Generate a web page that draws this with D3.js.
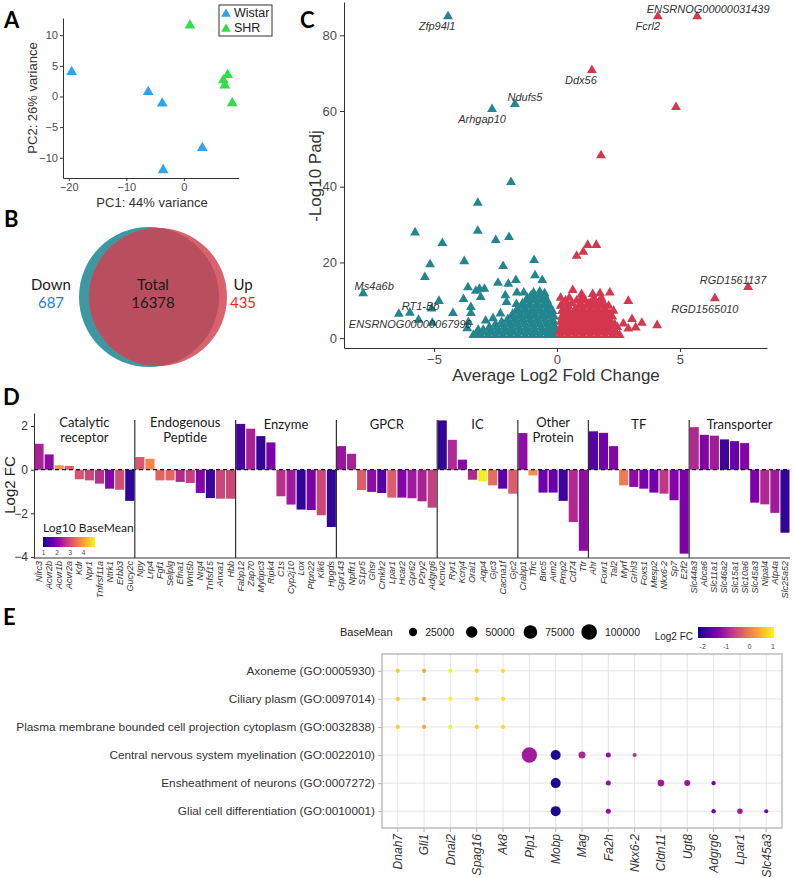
<!DOCTYPE html>
<html>
<head>
<meta charset="utf-8">
<title>Figure</title>
<style>
  body { margin: 0; background: #fff; }
  svg text { font-family: "Liberation Sans", Arial, sans-serif; }
  .cal { font-family: Lato, "Open Sans", sans-serif; }
  .letter { font-family: Lato, "Open Sans", sans-serif; font-weight: 700; font-size: 22px; fill: #000; }
</style>
</head>
<body>
<svg id="fig" width="794" height="878"></svg>
<script src="https://d3js.org/d3.v7.min.js"></script>
<script>
// ---- A: PCA ----
const pcaWistar = [[-19.5, 4.0], [-6.2, 0.75], [-3.77, -1.15], [3.2, -8.4], [-3.6, -12.0]];
const pcaSHR = [[1.04, 11.6], [7.6, 3.5], [6.85, 2.65], [7.1, 1.8], [8.4, -1.1]];
const pcaXTicks = [-20, -10, 0];
const pcaYTicks = [-10, -5, 0, 5, 10];

// ---- B: Venn ----
const vennNames = ["Down", "Total", "Up"];
const vennCounts = [687, 16378, 435];

// ---- C: volcano ----
const volcDown = [
  [-4.43, 85], [-2.64, 60.5], [-1.71, 61.8], [-1.87, 41.2], [-3.22, 35.7], [-3.22, 28.3],
  [-5.77, 27.9], [-1.95, 26.7], [-2.49, 25.9], [-4.66, 25.1], [-5.16, 19.5], [-3.77, 20.3],
  [-2.19, 19], [-0.93, 20.6], [-5.37, 16.1], [-0.89, 16.6], [-1.67, 15.3], [-0.6, 15.3],
  [-7.88, 11.8], [-3.62, 13.4], [-2.4, 14.6], [-1.98, 14.3], [-3.15, 13], [-2.95, 13],
  [-3.3, 12.5], [-1.63, 12], [-1.35, 12], [-2.1, 11.3], [-3.1, 10.8], [-3.8, 10.3],
  [-4.8, 9.8], [-2.05, 9.5], [-3.5, 8.2], [-1.65, 9], [-5.1, 7.8], [-3.5, 6.6],
  [-6.43, 6.4], [-5.98, 6.7], [-4.23, 6.6], [-5.63, 4.8], [-5.07, 4.0], [-3.65, 2.6],
  [-3.2, 2.2], [-2.9, 4.6], [-2.6, 5.2], [-2.3, 6.5], [-3.25, 1.0], [-3.6, 4.2],
  [-3.4, 0.8], [-3.1, 0.8], [-2.8, 0.8], [-2.5, 0.8], [-2.2, 0.8], [-1.9, 0.8], [-1.6, 0.8],
  [-1.3, 0.8], [-1.0, 0.8], [-0.7, 0.8], [-0.4, 0.8], [-0.15, 0.8],
  [-3.25, 1.5], [-2.95, 1.5], [-2.65, 1.5], [-2.35, 1.5], [-2.05, 1.5], [-1.75, 1.5],
  [-1.45, 1.5], [-1.15, 1.5], [-0.85, 1.5], [-0.55, 1.5], [-0.28, 1.5], [-0.08, 1.5],
  [-3.0, 2.2], [-2.7, 2.2], [-2.4, 2.2], [-2.1, 2.2], [-1.8, 2.2], [-1.5, 2.2], [-1.2, 2.2],
  [-0.9, 2.2], [-0.6, 2.2], [-0.3, 2.2], [-0.1, 2.2],
  [-2.75, 2.9], [-2.45, 2.9], [-2.15, 2.9], [-1.85, 2.9], [-1.55, 2.9], [-1.25, 2.9],
  [-0.95, 2.9], [-0.65, 2.9], [-0.35, 2.9], [-0.1, 2.9],
  [-2.5, 3.6], [-2.2, 3.6], [-1.9, 3.6], [-1.6, 3.6], [-1.3, 3.6], [-1.0, 3.6], [-0.7, 3.6],
  [-0.4, 3.6], [-0.15, 3.6],
  [-2.25, 4.3], [-1.95, 4.3], [-1.65, 4.3], [-1.35, 4.3], [-1.05, 4.3], [-0.75, 4.3],
  [-0.45, 4.3], [-0.15, 4.3],
  [-2.0, 5.0], [-1.7, 5.0], [-1.4, 5.0], [-1.1, 5.0], [-0.8, 5.0], [-0.5, 5.0], [-0.2, 5.0],
  [-1.85, 5.7], [-1.55, 5.7], [-1.25, 5.7], [-0.95, 5.7], [-0.65, 5.7], [-0.35, 5.7], [-0.12, 5.7],
  [-1.8, 6.4], [-1.5, 6.4], [-1.2, 6.4], [-0.9, 6.4], [-0.6, 6.4], [-0.3, 6.4],
  [-1.65, 7.1], [-1.35, 7.1], [-1.05, 7.1], [-0.75, 7.1], [-0.45, 7.1], [-0.18, 7.1],
  [-1.6, 7.8], [-1.3, 7.8], [-1.0, 7.8], [-0.7, 7.8], [-0.4, 7.8],
  [-1.45, 8.5], [-1.15, 8.5], [-0.85, 8.5], [-0.55, 8.5], [-0.3, 8.5],
  [-1.4, 9.2], [-1.1, 9.2], [-0.8, 9.2], [-0.5, 9.2],
  [-1.25, 9.9], [-0.95, 9.9], [-0.65, 9.9], [-0.4, 9.9],
  [-1.2, 10.6], [-0.9, 10.6], [-0.6, 10.6],
  [-1.05, 11.3], [-0.75, 11.3], [-0.5, 11.3],
  [-0.95, 12], [-0.7, 12.3], [-0.5, 11.8]
];
const volcUp = [
  [0.64, 12.7], [1.0, 11.6], [1.45, 11.6], [1.75, 11.8], [2.15, 12], [2.9, 9.8], [2.3, 7.2],
  [3.05, 5], [3.45, 4], [2.7, 3.8], [3.2, 2.8], [2.9, 2.5], [4.07, 3.4], [0.8, 21.7],
  [1.07, 22.8], [1.25, 24.6], [1.6, 24.6], [1.79, 48.3], [1.42, 70.8], [4.84, 61],
  [4.1, 85], [5.7, 85], [6.42, 10.5], [7.77, 13.5],
  [0.15, 0.8], [0.45, 0.8], [0.75, 0.8], [1.05, 0.8], [1.35, 0.8], [1.65, 0.8], [1.95, 0.8],
  [2.25, 0.8], [2.55, 0.8],
  [0.1, 1.5], [0.3, 1.5], [0.6, 1.5], [0.9, 1.5], [1.2, 1.5], [1.5, 1.5], [1.8, 1.5], [2.1, 1.5],
  [2.4, 1.5],
  [0.2, 2.2], [0.5, 2.2], [0.8, 2.2], [1.1, 2.2], [1.4, 2.2], [1.7, 2.2], [2.0, 2.2], [2.3, 2.2],
  [0.15, 2.9], [0.35, 2.9], [0.65, 2.9], [0.95, 2.9], [1.25, 2.9], [1.55, 2.9], [1.85, 2.9],
  [2.15, 2.9], [2.45, 2.9],
  [0.25, 3.6], [0.55, 3.6], [0.85, 3.6], [1.15, 3.6], [1.45, 3.6], [1.75, 3.6], [2.05, 3.6],
  [2.35, 3.6],
  [0.15, 4.3], [0.4, 4.3], [0.7, 4.3], [1.0, 4.3], [1.3, 4.3], [1.6, 4.3], [1.9, 4.3], [2.2, 4.3],
  [0.3, 5.0], [0.6, 5.0], [0.9, 5.0], [1.2, 5.0], [1.5, 5.0], [1.8, 5.0], [2.1, 5.0],
  [0.2, 5.7], [0.45, 5.7], [0.75, 5.7], [1.05, 5.7], [1.35, 5.7], [1.65, 5.7], [1.95, 5.7],
  [2.25, 5.7],
  [0.35, 6.4], [0.65, 6.4], [0.95, 6.4], [1.25, 6.4], [1.55, 6.4], [1.85, 6.4], [2.15, 6.4],
  [0.2, 7.1], [0.5, 7.1], [0.8, 7.1], [1.1, 7.1], [1.4, 7.1], [1.7, 7.1], [2.0, 7.1],
  [0.4, 7.8], [0.75, 7.8], [1.05, 7.8], [1.35, 7.8], [1.65, 7.8], [1.95, 7.8],
  [0.15, 8.5], [0.45, 8.5], [0.9, 8.5], [1.2, 8.5], [1.5, 8.5], [1.8, 8.5], [2.1, 8.5],
  [0.25, 9.2], [0.6, 9.2], [0.95, 9.2], [1.3, 9.2], [1.6, 9.2], [1.9, 9.2],
  [0.35, 9.9], [0.8, 9.9], [1.15, 9.9], [1.45, 9.9], [1.75, 9.9],
  [0.15, 10.6], [0.5, 10.6], [1.0, 10.6], [1.5, 10.6], [1.8, 10.6]
];
const volcLabels = [
  ["Zfp94l1", -4.43, 85], ["Fcrl2", 4.1, 85], ["ENSRNOG00000031439", 5.7, 85],
  ["Ddx56", 1.42, 70.8], ["Ndufs5", -1.71, 61.8], ["Arhgap10", -2.64, 60.5],
  ["Ms4a6b", -7.88, 11.8], ["RT1-Bb", -5.1, 7.8], ["ENSRNOG00000067996", -5.07, 4.0],
  ["RGD1561137", 7.77, 13.5], ["RGD1565010", 6.42, 10.5]
];
const volcXTicks = [-5, 0, 5];
const volcYTicks = [0, 20, 40, 60, 80];

// ---- D: bars by target class ----
const dClasses = ["Catalytic receptor", "Endogenous Peptide", "Enzyme", "GPCR", "IC", "Other Protein", "TF", "Transporter"];
const dClassSizes = [10, 10, 10, 10, 8, 7, 10, 10];
const dGenes = [
  "Nlrc3", "Acvr2b", "Acvr1b", "Acvr2a", "Kdr", "Npr1", "Tnfrsf11a", "Ntrk1", "Erbb3", "Gucy2c",
  "Npy", "Lrp4", "Fgf1", "Selplg", "Efna1", "Wnt5b", "Nrg4", "Tnfsf15", "Anxa1", "Hbb",
  "Fabp12", "Zap70", "Mybpc3", "Ripk4", "C1s", "Cyp2j10", "Lox", "Ptpn22", "Klk6", "Hpgds",
  "Gpr143", "Npffr1", "S1pr5", "Ghsr", "Cmklr2", "Lpar1", "Hcar2", "Gpr62", "P2ry2", "Adgrg6",
  "Kcnv2", "Ryr1", "Kcnj4", "Orai1", "Aqp4", "Gjc3", "Cacna1f", "Gjc2",
  "Crabp1", "Tfrc", "Birc5", "Aim2", "Pmp2", "Cd74", "Ttr",
  "Ahr", "Foxr1", "Tal2", "Myrf", "Grhl3", "Foxs1", "Mesp2", "Nkx6-2", "Sp7", "E2f2",
  "Slc44a3", "Abca6", "Slc11a1", "Slc46a2", "Slc15a1", "Slc10a6", "Slc45a3", "Nipal4", "Atp4a", "Slc25a52"
];
const dLog2FC = [
  1.19, 0.70, 0.20, 0.17, -0.44, -0.49, -0.64, -0.87, -0.92, -1.43,
  0.58, 0.50, -0.49, -0.49, -0.56, -0.61, -1.07, -1.30, -1.33, -1.33,
  2.10, 1.88, 1.54, 1.25, -1.22, -1.60, -1.83, -1.85, -2.09, -2.63,
  1.08, 0.73, -0.93, -1.02, -1.07, -1.28, -1.28, -1.31, -1.45, -1.74,
  2.26, 1.37, 0.46, -0.46, -0.53, -0.72, -0.87, -1.10,
  1.68, -0.26, -1.05, -1.05, -1.43, -2.40, -3.72,
  1.76, 1.69, 1.08, -0.72, -0.79, -0.87, -1.05, -1.10, -1.40, -3.85,
  1.95, 1.60, 1.56, 1.39, 1.31, 1.22, -1.51, -1.59, -1.98, -2.89
];
const dLog10BaseMean = [
  2.4, 2.1, 3.8, 3.2, 3.1, 2.9, 2.6, 2.0, 3.0, 1.2,
  3.1, 3.7, 3.3, 3.3, 2.5, 2.8, 2.0, 1.3, 2.9, 2.9,
  1.4, 2.4, 1.2, 1.9, 2.6, 2.3, 1.2, 1.9, 2.9, 1.2,
  2.2, 2.4, 3.2, 2.1, 1.5, 3.2, 2.0, 2.3, 2.4, 2.8,
  1.2, 2.5, 2.0, 2.5, 4.75, 3.4, 1.6, 3.2,
  2.1, 3.8, 1.8, 1.7, 1.3, 2.5, 2.1,
  1.5, 1.8, 2.0, 3.6, 2.1, 1.9, 1.8, 2.7, 2.0, 1.9,
  2.5, 2.0, 2.3, 1.3, 1.7, 2.0, 1.9, 2.5, 2.3, 1.2
];
const dYTicks = [-4, -2, 0, 2];
const dLegendTicks = [1, 2, 3, 4];

// ---- E: GO dot plot ----
const eTerms = [
  "Axoneme (GO:0005930)", "Ciliary plasm (GO:0097014)",
  "Plasma membrane bounded cell projection cytoplasm (GO:0032838)",
  "Central nervous system myelination (GO:0022010)", "Ensheathment of neurons (GO:0007272)",
  "Glial cell differentiation (GO:0010001)"
];
const eGenes = ["Dnah7", "Gli1", "Dnai2", "Spag16", "Ak8", "Plp1", "Mobp", "Mag", "Fa2h", "Nkx6-2", "Cldn11", "Ugt8", "Adgrg6", "Lpar1", "Slc45a3"];
// gene, term index, BaseMean, Log2 FC
const eDots = [
  ["Dnah7", 0, 5000, 0.72], ["Dnah7", 1, 5000, 0.72], ["Dnah7", 2, 5000, 0.72],
  ["Gli1", 0, 5000, 0.42], ["Gli1", 1, 5000, 0.42], ["Gli1", 2, 5000, 0.42],
  ["Dnai2", 0, 5000, 1.02], ["Dnai2", 1, 5000, 1.02], ["Dnai2", 2, 5000, 1.02],
  ["Spag16", 0, 5000, 0.74], ["Spag16", 1, 5000, 0.74], ["Spag16", 2, 5000, 0.74],
  ["Ak8", 0, 5000, 0.85], ["Ak8", 1, 5000, 0.85], ["Ak8", 2, 5000, 0.85],
  ["Plp1", 3, 95000, -1.05], ["Mobp", 3, 38000, -2.1], ["Mobp", 4, 38000, -2.1], ["Mobp", 5, 38000, -2.1],
  ["Mag", 3, 17000, -0.95], ["Fa2h", 3, 7700, -1.2], ["Fa2h", 4, 7700, -1.2], ["Fa2h", 5, 7700, -1.2],
  ["Nkx6-2", 3, 4400, -0.85], ["Cldn11", 4, 15000, -1.1], ["Ugt8", 4, 12000, -1.15],
  ["Adgrg6", 4, 5500, -1.5], ["Adgrg6", 5, 5500, -1.5], ["Lpar1", 5, 9700, -1.05], ["Slc45a3", 5, 4400, -1.45]
];
const eSizeTicks = [25000, 50000, 75000, 100000];
const eColorTicks = [-2, -1, 0, 1];

const svg = d3.select("#fig");
const defs = svg.append("defs");

function styleAxis(g, fs, textColor, lineColor) {
  g.selectAll("path, line").attr("stroke", lineColor || "#333").attr("stroke-width", 1);
  g.selectAll("text").attr("font-size", fs).attr("fill", textColor || "#4d4d4d");
}

function gradient(id, scale, n) {
  const grad = defs.append("linearGradient").attr("id", id);
  const [d0, d1] = scale.domain();
  for (let i = 0; i <= n; i++) {
    grad.append("stop").attr("offset", i / n).attr("stop-color", scale(d0 + (d1 - d0) * i / n));
  }
}

// ============ A ============
const ax = d3.scaleLinear().domain([-21, 9.5]).range([63, 238.6]);
const ay = d3.scaleLinear().domain([-13.3, 12.8]).range([178, 18]);
const gA = svg.append("g");
gA.append("g").attr("transform", "translate(0,178)")
  .call(d3.axisBottom(ax).tickValues(pcaXTicks).tickSize(3).tickPadding(2).tickSizeOuter(0))
  .call(g => styleAxis(g, 11));
gA.append("g").attr("transform", "translate(63,0)")
  .call(d3.axisLeft(ay).tickValues(pcaYTicks).tickSize(3).tickPadding(2).tickSizeOuter(0))
  .call(g => styleAxis(g, 11));
const triA = d3.symbol().type(d3.symbolTriangle).size(50);
gA.selectAll(".w").data(pcaWistar).join("path")
  .attr("d", triA).attr("fill", "#2ea3ef")
  .attr("transform", d => `translate(${ax(d[0])},${ay(d[1])})`);
gA.selectAll(".s").data(pcaSHR).join("path")
  .attr("d", triA).attr("fill", "#30de4a")
  .attr("transform", d => `translate(${ax(d[0])},${ay(d[1])})`);
gA.append("text").attr("x", 152).attr("y", 207).attr("text-anchor", "middle")
  .attr("font-size", 13).attr("fill", "#333").text("PC1: 44% variance");
gA.append("text").attr("transform", "translate(37,98) rotate(-90)").attr("text-anchor", "middle")
  .attr("font-size", 13).attr("fill", "#333").text("PC2: 26% variance");
const legA = gA.append("g");
legA.append("rect").attr("x", 219).attr("y", 5).attr("width", 53).attr("height", 31)
  .attr("fill", "#fff").attr("stroke", "#333").attr("stroke-width", 1);
const pcaColors = ["#2ea3ef", "#30de4a"];
["Wistar", "SHR"].forEach((name, i) => {
  legA.append("path").attr("d", d3.symbol().type(d3.symbolTriangle).size(40))
    .attr("fill", pcaColors[i]).attr("transform", `translate(226,${14 + i * 15})`);
  legA.append("text").attr("x", 234).attr("y", 17 + i * 15).attr("font-size", 12.5)
    .attr("fill", "#222").text(name);
});

// ============ B ============
const gB = svg.append("g");
defs.append("clipPath").attr("id", "tealClip")
  .append("circle").attr("cx", 149).attr("cy", 297).attr("r", 70);
gB.append("circle").attr("cx", 149).attr("cy", 297).attr("r", 70).attr("fill", "#3c99a1");
gB.append("circle").attr("cx", 158).attr("cy", 297).attr("r", 69).attr("fill", "#d9626f");
gB.append("circle").attr("cx", 158).attr("cy", 297).attr("r", 69).attr("fill", "#b94e5e")
  .attr("clip-path", "url(#tealClip)");
const vennX = [51, 153, 243];
const vennCol = ["#1e7fd6", "#1a1a1a", "#ff1f1f"];
vennNames.forEach((n, i) => {
  gB.append("text").attr("class", "cal").attr("x", vennX[i]).attr("y", 290)
    .attr("text-anchor", "middle").attr("font-size", 15).attr("fill", "#1a1a1a").text(n);
  gB.append("text").attr("class", "cal").attr("x", vennX[i]).attr("y", 308)
    .attr("text-anchor", "middle").attr("font-size", 15).attr("fill", vennCol[i]).text(vennCounts[i]);
});

// ============ C ============
const cx = d3.scaleLinear().domain([-8.66, 8.54]).range([344, 767]);
const cy = d3.scaleLinear().domain([-2.6, 88.8]).range([348, 2]);
const gC = svg.append("g");
gC.append("g").attr("transform", "translate(0,348)")
  .call(d3.axisBottom(cx).tickValues(volcXTicks).tickSize(4).tickPadding(3).tickSizeOuter(0))
  .call(g => styleAxis(g, 13));
gC.append("g").attr("transform", "translate(344,0)")
  .call(d3.axisLeft(cy).tickValues(volcYTicks).tickSize(4).tickPadding(3).tickSizeOuter(0))
  .call(g => styleAxis(g, 13));
const triC = d3.symbol().type(d3.symbolTriangle).size(42);
gC.append("g").selectAll("path").data(volcDown).join("path")
  .attr("d", triC).attr("fill", "#23868e")
  .attr("transform", d => `translate(${cx(d[0])},${cy(d[1])})`);
gC.append("g").selectAll("path").data(volcUp).join("path")
  .attr("d", triC).attr("fill", "#d5374f")
  .attr("transform", d => `translate(${cx(d[0])},${cy(d[1])})`);
const labelOffsets = {
  "Zfp94l1": [-11, 10], "Fcrl2": [-10, 10], "ENSRNOG00000031439": [11, -7], "Ddx56": [-11, 10],
  "Ndufs5": [10, -7], "Arhgap10": [-10, 10], "Ms4a6b": [11, -7], "RT1-Bb": [-11, -2.5],
  "ENSRNOG00000067996": [-22, 1], "RGD1561137": [-15, -7], "RGD1565010": [-10, 11]
};
gC.append("g").selectAll("text").data(volcLabels).join("text")
  .attr("x", d => cx(d[1]) + labelOffsets[d[0]][0])
  .attr("y", d => cy(d[2]) + labelOffsets[d[0]][1] + 4)
  .attr("text-anchor", "middle").attr("font-size", 11).attr("font-style", "italic")
  .attr("fill", "#333").text(d => d[0]);
gC.append("text").attr("x", 556).attr("y", 381).attr("text-anchor", "middle")
  .attr("font-size", 17).attr("fill", "#333").text("Average Log2 Fold Change");
gC.append("text").attr("transform", "translate(321,176) rotate(-90)").attr("text-anchor", "middle")
  .attr("font-size", 17).attr("fill", "#333").text("-Log10 Padj");

// ============ D ============
const gD = svg.append("g");
const dx = d3.scaleBand().domain(d3.range(dGenes.length)).range([34, 790]).paddingInner(0.1).paddingOuter(0.05);
const dy = d3.scaleLinear().domain([-4.05, 2.6]).range([558, 413]);
const dc = d3.scaleSequential(d3.interpolatePlasma).domain([0.95, 4.85]);
const step = dx.step();
gD.append("g").selectAll("rect").data(dLog2FC).join("rect")
  .attr("x", (d, i) => dx(i)).attr("width", dx.bandwidth())
  .attr("y", d => dy(Math.max(0, d))).attr("height", d => Math.abs(dy(d) - dy(0)))
  .attr("fill", (d, i) => dc(dLog10BaseMean[i]));
gD.append("line").attr("x1", 34).attr("x2", 790).attr("y1", dy(0)).attr("y2", dy(0))
  .attr("stroke", "#111").attr("stroke-width", 1.2).attr("stroke-dasharray", "4,3");
gD.append("g").attr("transform", "translate(34,0)")
  .call(d3.axisLeft(dy).tickValues(dYTicks).tickFormat(d3.format("d")).tickSize(3).tickPadding(3).tickSizeOuter(0))
  .call(g => styleAxis(g, 12, "#333"));
gD.append("line").attr("x1", 34).attr("x2", 790).attr("y1", 558).attr("y2", 558)
  .attr("stroke", "#333").attr("stroke-width", 1);
let start = 0;
dClasses.forEach((cls, k) => {
  const n = dClassSizes[k];
  const x0 = 34 + start * step, x1 = 34 + (start + n) * step;
  if (k > 0) {
    gD.append("line").attr("x1", x0).attr("x2", x0).attr("y1", 420).attr("y2", 558)
      .attr("stroke", "#333").attr("stroke-width", 1.2);
  }
  const words = cls.split(" ");
  const t = gD.append("text").attr("class", "cal").attr("text-anchor", "middle")
    .attr("font-size", 13).attr("fill", "#1a1a1a");
  if (words.length === 1) {
    t.attr("x", (x0 + x1) / 2).attr("y", 428.5).text(cls);
  } else {
    words.forEach((w, j) => t.append("tspan").attr("x", (x0 + x1) / 2).attr("y", 426.5 + j * 15).text(w));
  }
  start += n;
});
gD.append("g").selectAll("text").data(dGenes).join("text")
  .attr("transform", (d, i) => `translate(${dx(i) + dx.bandwidth() / 2 + 3},561) rotate(-90)`)
  .attr("text-anchor", "end").attr("font-size", 9).attr("font-style", "italic")
  .attr("fill", "#333").text(d => d);
gD.append("text").attr("transform", "translate(15,485) rotate(-90)").attr("text-anchor", "middle")
  .attr("font-size", 15).attr("fill", "#222").text("Log2 FC");
// colour legend
gradient("gradD", dc, 20);
gD.append("text").attr("class", "cal").attr("x", 43).attr("y", 532).attr("font-size", 12)
  .attr("fill", "#1a1a1a").text("Log10 BaseMean");
gD.append("rect").attr("x", 43).attr("y", 537).attr("width", 52).attr("height", 10)
  .attr("fill", "url(#gradD)");
const dLeg = d3.scaleLinear().domain([0.95, 4.85]).range([43, 95]);
gD.append("g").selectAll("text").data(dLegendTicks).join("text")
  .attr("x", d => dLeg(d)).attr("y", 555).attr("text-anchor", "middle")
  .attr("font-size", 6.5).attr("fill", "#444").text(d => d);

// ============ E ============
const gE = svg.append("g");
const ex = d3.scalePoint().domain(eGenes).range([382, 782]).padding(0.6);
const ey = d3.scalePoint().domain(d3.range(eTerms.length)).range([654, 828]).padding(0.6);
const er = d3.scaleSqrt().domain([0, 100000]).range([0.45, 7.85]);
const ec = d3.scaleSequential(d3.interpolatePlasma).domain([-2.2, 1.05]);
gE.append("g").selectAll("line").data(eGenes).join("line")
  .attr("x1", d => ex(d)).attr("x2", d => ex(d)).attr("y1", 654).attr("y2", 828)
  .attr("stroke", "#dedede").attr("stroke-width", 0.8);
gE.append("g").selectAll("line").data(d3.range(eTerms.length)).join("line")
  .attr("y1", d => ey(d)).attr("y2", d => ey(d)).attr("x1", 382).attr("x2", 782)
  .attr("stroke", "#dedede").attr("stroke-width", 0.8);
gE.append("rect").attr("x", 382).attr("y", 654).attr("width", 400).attr("height", 174)
  .attr("fill", "none").attr("stroke", "#b3b3b3").attr("stroke-width", 1.3);
gE.append("g").attr("transform", "translate(382,0)")
  .call(d3.axisLeft(ey).tickSize(4).tickPadding(3).tickFormat(i => eTerms[i]))
  .call(g => { g.select(".domain").remove(); styleAxis(g, 11.8, "#333", "#b3b3b3"); });
gE.append("g").selectAll("line").data(eGenes).join("line")
  .attr("x1", d => ex(d)).attr("x2", d => ex(d)).attr("y1", 828).attr("y2", 832)
  .attr("stroke", "#b3b3b3");
gE.append("g").selectAll("text").data(eGenes).join("text")
  .attr("transform", d => `translate(${ex(d) + 4.3},834) rotate(-90)`)
  .attr("text-anchor", "end").attr("font-size", 12).attr("font-style", "italic")
  .attr("fill", "#333").text(d => d);
gE.append("g").selectAll("circle").data(eDots).join("circle")
  .attr("cx", d => ex(d[0])).attr("cy", d => ey(d[1])).attr("r", d => er(d[2]))
  .attr("fill", d => ec(d[3]));
// size legend
gE.append("text").attr("x", 340).attr("y", 636).attr("font-size", 11).attr("fill", "#222").text("BaseMean");
eSizeTicks.forEach((v, i) => {
  const c = 413 + i * 58.7;
  gE.append("circle").attr("cx", c).attr("cy", 632).attr("r", er(v)).attr("fill", "#000");
  gE.append("text").attr("x", c + er(v) + 8).attr("y", 636).attr("font-size", 10.5)
    .attr("fill", "#222").text(v);
});
// colour legend
gradient("gradE", ec, 20);
gE.append("text").attr("x", 693).attr("y", 640).attr("text-anchor", "end").attr("font-size", 10)
  .attr("fill", "#222").text("Log2 FC");
gE.append("rect").attr("x", 698).attr("y", 627).attr("width", 76).attr("height", 11)
  .attr("fill", "url(#gradE)");
const eLeg = d3.scaleLinear().domain([-2.2, 1.05]).range([698, 774]);
gE.append("g").selectAll("text").data(eColorTicks).join("text")
  .attr("x", d => eLeg(d)).attr("y", 649).attr("text-anchor", "middle")
  .attr("font-size", 7).attr("fill", "#444").text(d => d);

// ---- panel letters ----
[["A", 4, 28], ["B", 4, 227], ["C", 300, 28], ["D", 3, 405], ["E", 3, 625]].forEach(([l, x, y]) => {
  svg.append("text").attr("class", "letter").attr("x", x).attr("y", y).text(l);
});
</script>
</body>
</html>
